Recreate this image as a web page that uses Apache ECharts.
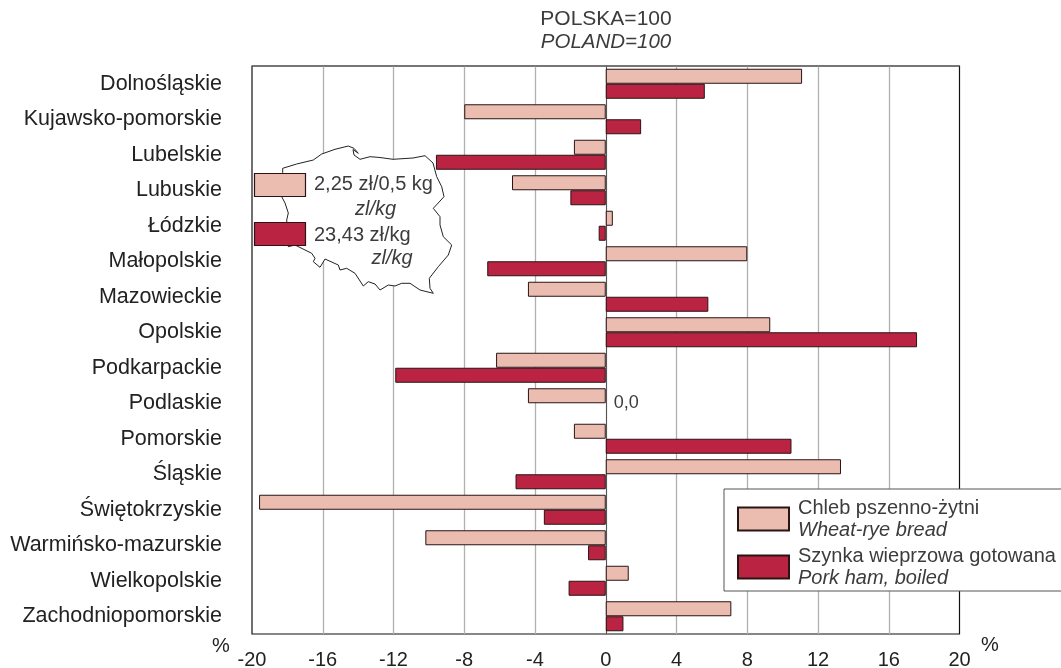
<!DOCTYPE html>
<html><head><meta charset="utf-8">
<style>html,body{margin:0;padding:0;background:#fff}#c{width:1061px;height:668px}</style>
<script src="https://cdn.jsdelivr.net/npm/echarts@6/dist/echarts.min.js"></script>
</head><body><div id="c"></div>
<script>
const regions = ['Dolnośląskie','Kujawsko-pomorskie','Lubelskie','Lubuskie','Łódzkie','Małopolskie','Mazowieckie','Opolskie','Podkarpackie','Podlaskie','Pomorskie','Śląskie','Świętokrzyskie','Warmińsko-mazurskie','Wielkopolskie','Zachodniopomorskie'];
const bread = [11.1,-8.0,-1.8,-5.3,0.4,8.0,-4.4,9.3,-6.2,-4.4,-1.8,13.3,-19.6,-10.2,1.3,7.1];
const ham = [5.6,2.0,-9.6,-2.0,-0.4,-6.7,5.8,17.6,-11.9,0,10.5,-5.1,-3.5,-1.0,-2.1,1.0];
const breadName = 'Chleb pszenno-żytni', breadNameEn = 'Wheat-rye bread';
const hamName = 'Szynka wieprzowa gotowana', hamNameEn = 'Pork ham, boiled';
const FONT = '"Liberation Sans", Arial, sans-serif';
const TXT = '#222', SOFT = '#3c3c3c', PINK = '#ebbdb1', RED = '#ba2342', EDGE = '#2a1414';
// Decorative outline of Poland behind the price note
const mapPts = [[282.7,172.7],[282.7,168.3],[296.7,164],[313.3,160],[321.7,154],[335,149.3],[348.3,146],[354,148.3],[358.3,153.3],[353,149.5],[354,155],[360,159.3],[370,156.7],[380,157.5],[393,159.3],[413,158],[425,155.7],[433,163],[436.7,176.7],[441.7,186.7],[444,196.7],[433.3,208.3],[440,216.7],[440,225],[443.3,236.7],[451.7,245],[448.3,255],[438.3,266.7],[429.3,278.3],[430,288.3],[433.3,293.3],[420,290],[410,283.3],[401.7,283.3],[395,286],[388.3,285],[380,290],[375,284],[368.3,281.7],[363.3,286],[355,273.3],[346.7,268.3],[340,270],[338.3,265],[325,259],[320,267.3],[313.3,261.7],[315,258.3],[311.7,253.3],[295,245],[288.3,246.7],[286.7,220],[288.3,213],[285,203],[281.7,196.7]];

const text = (x, y, t, opt = {}) => ({type:'text', z:6, x, y, style:Object.assign({text:t, fill:SOFT, font:'20px ' + FONT, textAlign:'left', textVerticalAlign:'middle'}, opt)});
const box = (x, y, fill) => ({type:'rect', z:5, shape:{x, y, width:51, height:23}, style:{fill, stroke:EDGE, lineWidth:1.2}});

const chart = echarts.init(document.getElementById('c'));
chart.setOption({
  animation:false,
  textStyle:{fontFamily:FONT},
  grid:{left:252, right:101.5, top:66, bottom:34, show:true, borderColor:'#111', borderWidth:1.2, outerBoundsMode:'none'},
  xAxis:{type:'value', min:-20, max:20, interval:4, position:'bottom',
    axisLine:{show:false}, axisTick:{show:false},
    splitLine:{show:true, showMinLine:false, showMaxLine:false, lineStyle:{color:'#b0b0b0', width:1.3}},
    axisLabel:{color:TXT, fontSize:20, margin:16, fontFamily:FONT}},
  yAxis:{type:'category', data:regions, inverse:true,
    axisLine:{show:true, onZero:true, lineStyle:{color:'#555', width:1}}, axisTick:{show:false},
    axisLabel:{color:TXT, fontSize:21.5, margin:30, fontFamily:FONT}},
  legend:{orient:'vertical', left:724, top:489, itemWidth:51, itemHeight:23, itemGap:6,
    padding:[9,30,3,13], backgroundColor:'#fff', borderColor:'#555', borderWidth:1, z:20,
    icon:'rect', data:[breadName, hamName],
    formatter:n => n === breadName ? `{a|${breadName}}\n{b|${breadNameEn}}` : `{a|${hamName}}\n{b|${hamNameEn}}`,
    textStyle:{padding:[0,0,0,4], rich:{a:{fontSize:20, color:SOFT, fontFamily:FONT, lineHeight:22},
                     b:{fontSize:20, color:SOFT, fontStyle:'italic', fontFamily:FONT, lineHeight:22}}}},
  series:[
    {name:breadName, type:'bar', data:bread, barWidth:15, barGap:0, z:3,
     itemStyle:{color:PINK, borderColor:EDGE, borderWidth:1}},
    {name:hamName, type:'bar', data:ham.map(v => v === 0 ? {value:v, itemStyle:{borderWidth:0}, label:{show:true, position:'right', formatter:'0,0', offset:[3,-8], color:SOFT, fontSize:18, fontFamily:FONT}} : v), barWidth:15, z:3,
     itemStyle:{color:RED, borderColor:EDGE, borderWidth:1}}
  ],
  graphic:[
    {type:'polygon', z:1, shape:{points:mapPts}, style:{fill:'#fff', stroke:'#222', lineWidth:1}},
    {type:'line', z:4, shape:{x1:252, y1:66, x2:960, y2:66}, style:{stroke:'#666', lineWidth:1.2}},
    box(254.5,173.5,PINK), box(254.5,222.5,RED),
    text(314,184,'2,25 zł/0,5 kg'), text(355,209,'zl/kg',{font:'italic 20px '+FONT}),
    text(314,235,'23,43 zł/kg'), text(371.5,258,'zl/kg',{font:'italic 20px '+FONT}),
    text(606,19,'POLSKA=100',{textAlign:'center',font:'21px '+FONT}), text(606,42,'POLAND=100',{textAlign:'center',font:'italic 20.5px '+FONT}),
    text(221,646,'%',{textAlign:'center',font:'20px '+FONT,fill:TXT}), text(990,645,'%',{textAlign:'center',font:'20px '+FONT,fill:TXT})
  ]
});
</script></body></html>
